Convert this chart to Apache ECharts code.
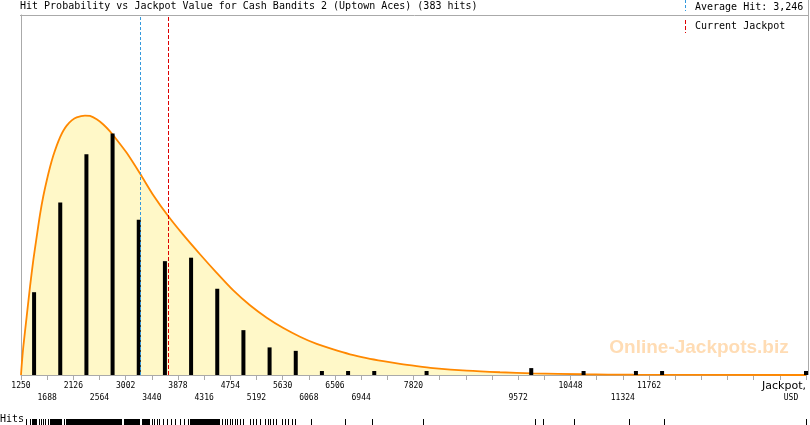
<!DOCTYPE html>
<html>
<head>
<meta charset="utf-8">
<script src="https://cdn.jsdelivr.net/npm/echarts@6/dist/echarts.min.js"></script>
<style>
html,body{margin:0;padding:0;background:#fff;}
#c{width:810px;height:425px;}
</style>
</head>
<body>
<div id="c"></div>
<script>
// ---- data ----
const chartTitle = 'Hit Probability vs Jackpot Value for Cash Bandits 2 (Uptown Aces) (383 hits)';
const xMin = 1250, xMax = 14390, xStep = 438;
const labelTicks = [1250,1688,2126,2564,3002,3440,3878,4316,4754,5192,5630,6068,6506,6944,7820,9572,10448,11324,11762];
const barX = [1469,1907,2345,2783,3221,3659,4097,4535,4973,5411,5849,6287,6725,7163,8039,9791,10667,11543,11981,14390];
const barHits = [24,50,64,70,45,33,34,25,13,8,7,1,1,1,1,2,1,1,1,1];
const curveX = [1250,1262,1289,1345,1401,1456,1513,1568,1623,1680,1735,1791,1848,1903,1958,2015,2099,2182,2321,2405,2517,2628,2740,2852,3019,3242,3465,3716,3967,4246,4526,4804,5083,5363,5641,5920,6200,6478,6757,7037,7315,7594,7874,8147,8711,9268,9821,10658,11495,14390];
const curveY = [0,2.9,8.2,16.9,25.6,33.3,40.1,46.5,51.8,56.3,60.2,63.6,66.5,68.9,70.8,72.3,73.8,74.7,75.2,75.1,74.1,72.6,70.6,68.2,64.4,58.4,52.1,46.0,40.6,35.0,29.6,24.5,20.2,16.6,13.6,11.1,9.0,7.4,6.0,4.9,4.0,3.2,2.55,2.0,1.25,0.8,0.5,0.22,0.08,0];
const avgHit = 3246;
const currentJackpot = 3715;
const rugTicks = [1339,1406,1556,1590,1623,1657,1707,1970,3448,3482,3523,3565,3632,3700,3766,3833,3917,3984,4051,4615,4658,4698,4742,4782,4826,4866,4921,4966,5089,5134,5189,5256,5340,5378,5423,5469,5524,5619,5663,5720,5787,5842,6105,6679,7126,7980,9848,9982,10501,11428,12007,14390];
const rugBlocks = [[1434,1518],[1740,1936],[2008,2941],[2974,3247],[3276,3415],[4084,4586]];

// ---- chart ----
const mono = 'DejaVu Sans Mono';
const chart = echarts.init(document.getElementById('c'), null, {renderer:'canvas'});
const yMax = 360 / 3.45;

function rowFormatter(row){
  return function(v){
    const i = labelTicks.indexOf(Math.round(v));
    return (i >= 0 && i % 2 === row) ? String(Math.round(v)) : '';
  };
}

const rugData = rugTicks.map(v => [v, v]).concat(rugBlocks);

chart.setOption({
  animation: false,
  backgroundColor: '#ffffff',
  title: {
    text: chartTitle, left: 20, top: 1, padding: 0,
    textStyle: {fontFamily: mono, fontSize: 10, fontWeight: 'normal', color: '#000'}
  },
  grid: [
    {left: 21, top: 15, width: 785, height: 360, containLabel: false},
    {left: 21, top: 419, width: 785, height: 6, containLabel: false}
  ],
  xAxis: [
    {
      type: 'value', gridIndex: 0, min: xMin, max: xMax, interval: xStep, position: 'bottom',
      splitLine: {show: false},
      axisLine: {show: true, lineStyle: {color: '#aaaaaa', width: 1}},
      axisTick: {show: true, length: 5, lineStyle: {color: '#aaaaaa'}},
      axisLabel: {show: true, margin: 7, hideOverlap: false, showMinLabel: true, showMaxLabel: true,
        fontFamily: mono, fontSize: 8, color: '#000', formatter: rowFormatter(0)}
    },
    {
      type: 'value', gridIndex: 0, min: xMin, max: xMax, interval: xStep, position: 'bottom', offset: 0,
      splitLine: {show: false}, axisLine: {show: false}, axisTick: {show: false},
      axisLabel: {show: true, margin: 19, hideOverlap: false, showMinLabel: true, showMaxLabel: true,
        fontFamily: mono, fontSize: 8, color: '#000', formatter: rowFormatter(1)}
    },
    {
      type: 'value', gridIndex: 1, min: xMin, max: xMax, show: false
    }
  ],
  yAxis: [
    {type: 'value', gridIndex: 0, min: 0, max: yMax, splitLine: {show: false},
      axisLine: {show: true, lineStyle: {color: '#aaaaaa'}}, axisTick: {show: false}, axisLabel: {show: false}},
    {type: 'value', gridIndex: 1, min: 0, max: 1, show: false}
  ],
  series: [
    {
      type: 'line', xAxisIndex: 0, yAxisIndex: 0, z: 1,
      data: curveX.map((x, i) => [x, curveY[i]]),
      smooth: 0.25, showSymbol: false, symbol: 'none',
      lineStyle: {color: '#ff8800', width: 1.8},
      areaStyle: {color: '#fff8c8', opacity: 1}
    },
    {
      type: 'bar', xAxisIndex: 0, yAxisIndex: 0, z: 3,
      data: barX.map((x, i) => [x, barHits[i]]),
      barWidth: 4, barMinHeight: 4,
      itemStyle: {color: '#000000'},
      markLine: {
        silent: true, symbol: ['none', 'none'], label: {show: false},
        data: [
          {xAxis: avgHit, lineStyle: {color: '#3399dd', type: [3, 2], width: 1}},
          {xAxis: currentJackpot, lineStyle: {color: '#dd0000', type: [4, 2], width: 1}}
        ]
      }
    },
    {
      type: 'custom', xAxisIndex: 2, yAxisIndex: 1, clip: false,
      data: rugData,
      renderItem: function(params, api){
        const p0 = api.coord([api.value(0), 0]);
        const p1 = api.coord([api.value(1), 1]);
        const x0 = Math.round(p0[0]);
        const w = Math.max(1, Math.round(p1[0] - p0[0]));
        return {type: 'rect', shape: {x: x0, y: Math.round(p1[1]), width: w, height: Math.round(p0[1] - p1[1])}, style: {fill: '#000'}};
      }
    }
  ],
  graphic: [
    {type: 'line', silent: true, shape: {x1: 20, y1: 15.5, x2: 809, y2: 15.5}, style: {stroke: '#aaaaaa', lineWidth: 1}},
    {type: 'line', silent: true, shape: {x1: 808.5, y1: 0, x2: 808.5, y2: 375}, style: {stroke: '#aaaaaa', lineWidth: 1}},
    {type: 'line', silent: true, shape: {x1: 685.5, y1: 0, x2: 685.5, y2: 11}, style: {stroke: '#3399dd', lineWidth: 1, lineDash: [3, 2]}},
    {type: 'line', silent: true, shape: {x1: 685.5, y1: 20, x2: 685.5, y2: 33}, style: {stroke: '#dd0000', lineWidth: 1, lineDash: [4, 2]}},
    {type: 'text', silent: true, x: 695, y: 7, style: {text: 'Average Hit: ' + avgHit.toLocaleString('en-US'), font: '10px "DejaVu Sans Mono"', fill: '#000', textVerticalAlign: 'middle'}},
    {type: 'text', silent: true, x: 695, y: 26, style: {text: 'Current Jackpot', font: '10px "DejaVu Sans Mono"', fill: '#000', textVerticalAlign: 'middle'}},
    {type: 'text', silent: true, x: 806, y: 386, style: {text: 'Jackpot,', font: '11px "DejaVu Sans"', fill: '#000', textAlign: 'right', textVerticalAlign: 'middle'}},
    {type: 'text', silent: true, x: 791, y: 398, style: {text: 'USD', font: '8px "DejaVu Sans Mono"', fill: '#000', textAlign: 'center', textVerticalAlign: 'middle'}},
    {type: 'text', silent: true, x: 0, y: 419, style: {text: 'Hits', font: '10px "DejaVu Sans Mono"', fill: '#000', textVerticalAlign: 'middle'}},
    {type: 'text', silent: true, x: 699, y: 348, z: 0, style: {text: 'Online-Jackpots.biz', font: 'bold 19px "Liberation Sans"', fill: '#ffdcb4', textAlign: 'center', textVerticalAlign: 'middle'}}
  ]
});
</script>
</body>
</html>
